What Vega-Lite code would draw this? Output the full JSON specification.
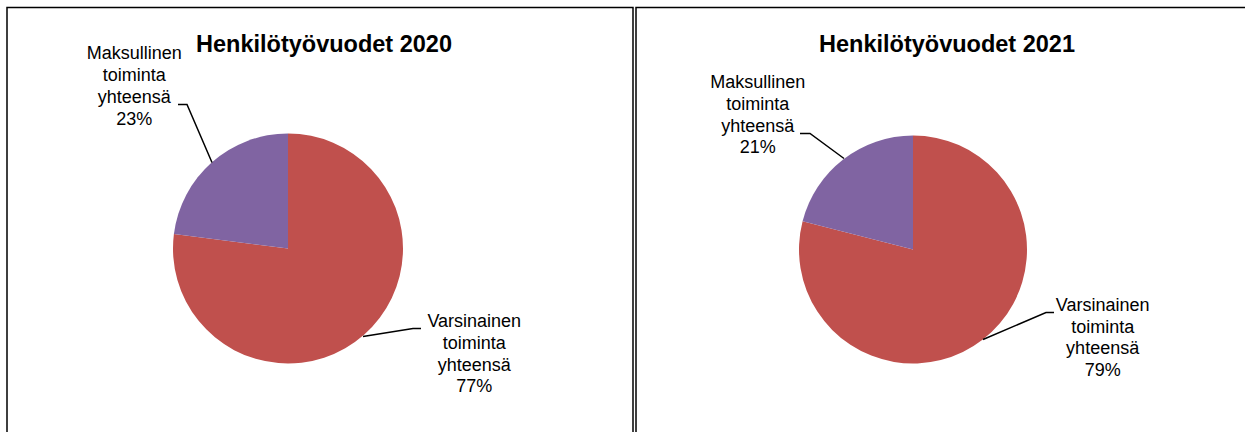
{
  "$schema": "https://vega.github.io/schema/vega-lite/v6.json",
  "padding": {"left": 6, "top": 6.5, "right": 0, "bottom": 0},
  "spacing": 1,
  "background": "white",
  "resolve": {"scale": {"shape": "independent", "color": "independent", "theta": "independent"}},
  "config": {
    "view": {"stroke": "black", "strokeWidth": 1.5},
    "font": "Liberation Sans"
  },
  "hconcat": [
    {
      "width": 626,
      "height": 432,
      "view": {"stroke": "black", "strokeWidth": 1.5},
      "title": {"text": "Henkilötyövuodet 2020", "font": "Liberation Sans", "fontSize": 23.5, "fontWeight": "bold", "color": "black", "baseline": "alphabetic", "offset": -68, "anchor": "middle", "frame": "group", "dx": 4},
      "data": {"values": [
        {"name": "Varsinainen toiminta yhteensä", "pct": 77},
        {"name": "Maksullinen toiminta yhteensä", "pct": 23}
      ]},
      "transform": [{"calculate": "datum.name + ' ' + datum.pct + '%'", "as": "lbl"}],
      "layer": [
        {
          "mark": {"type": "arc", "radius": 115, "x": 281, "y": 241},
          "encoding": {
            "theta": {"field": "pct", "type": "quantitative", "stack": true},
            "order": {"field": "name", "sort": "descending"},
            "color": {"field": "name", "type": "nominal", "scale": {"domain": ["Varsinainen toiminta yhteensä", "Maksullinen toiminta yhteensä"], "range": ["#C0504D", "#8064A2"]}, "legend": null}
          }
        },
        {
          "mark": {"type": "point", "x": 281, "y": 241, "size": 4, "filled": false, "color": "black", "stroke": "black", "strokeWidth": 1.5, "opacity": 1},
          "encoding": {
            "shape": {"field": "name", "type": "nominal", "scale": {"domain": ["Varsinainen toiminta yhteensä", "Maksullinen toiminta yhteensä"], "range": ["M75,88L125,80L133,80", "M-110,-144L-101,-144L-76,-86"]}, "legend": null}
          }
        },
        {
          "mark": {"type": "text", "x": 281, "y": 241, "radius": 216, "dx": -11, "dy": -32, "fontSize": 18, "lineHeight": 21.7, "lineBreak": " ", "align": "center", "baseline": "middle", "color": "black"},
          "encoding": {
            "theta": {"field": "pct", "type": "quantitative", "stack": true},
            "order": {"field": "name", "sort": "descending"},
            "detail": {"field": "name"},
            "text": {"condition": {"test": "datum.name == 'Maksullinen toiminta yhteensä'", "field": "lbl"}, "value": ""}
          }
        },
        {
          "mark": {"type": "text", "x": 281, "y": 241, "radius": 141, "dx": 93, "dy": -32, "fontSize": 18, "lineHeight": 21.7, "lineBreak": " ", "align": "center", "baseline": "middle", "color": "black"},
          "encoding": {
            "theta": {"field": "pct", "type": "quantitative", "stack": true},
            "order": {"field": "name", "sort": "descending"},
            "detail": {"field": "name"},
            "text": {"condition": {"test": "datum.name == 'Varsinainen toiminta yhteensä'", "field": "lbl"}, "value": ""}
          }
        }
      ]
    },
    {
      "width": 626,
      "height": 432,
      "view": {"stroke": "black", "strokeWidth": 1.5},
      "title": {"text": "Henkilötyövuodet 2021", "font": "Liberation Sans", "fontSize": 23.5, "fontWeight": "bold", "color": "black", "baseline": "alphabetic", "offset": -68, "anchor": "middle", "frame": "group", "dx": -2},
      "data": {"values": [
        {"name": "Varsinainen toiminta yhteensä", "pct": 79},
        {"name": "Maksullinen toiminta yhteensä", "pct": 21}
      ]},
      "transform": [{"calculate": "datum.name + ' ' + datum.pct + '%'", "as": "lbl"}],
      "layer": [
        {
          "mark": {"type": "arc", "radius": 114, "x": 277, "y": 242},
          "encoding": {
            "theta": {"field": "pct", "type": "quantitative", "stack": true},
            "order": {"field": "name", "sort": "descending"},
            "color": {"field": "name", "type": "nominal", "scale": {"domain": ["Varsinainen toiminta yhteensä", "Maksullinen toiminta yhteensä"], "range": ["#C0504D", "#8064A2"]}, "legend": null}
          }
        },
        {
          "mark": {"type": "point", "x": 277, "y": 242, "size": 4, "filled": false, "color": "black", "stroke": "black", "strokeWidth": 1.5, "opacity": 1},
          "encoding": {
            "shape": {"field": "name", "type": "nominal", "scale": {"domain": ["Varsinainen toiminta yhteensä", "Maksullinen toiminta yhteensä"], "range": ["M70,90L133,63L141,63", "M-113,-116L-103,-116L-69,-91"]}, "legend": null}
          }
        },
        {
          "mark": {"type": "text", "x": 277, "y": 242, "radius": 170, "dx": -51, "dy": -32, "fontSize": 18, "lineHeight": 21.7, "lineBreak": " ", "align": "center", "baseline": "middle", "color": "black"},
          "encoding": {
            "theta": {"field": "pct", "type": "quantitative", "stack": true},
            "order": {"field": "name", "sort": "descending"},
            "detail": {"field": "name"},
            "text": {"condition": {"test": "datum.name == 'Maksullinen toiminta yhteensä'", "field": "lbl"}, "value": ""}
          }
        },
        {
          "mark": {"type": "text", "x": 277, "y": 242, "radius": 112, "dx": 121, "dy": -32, "fontSize": 18, "lineHeight": 21.7, "lineBreak": " ", "align": "center", "baseline": "middle", "color": "black"},
          "encoding": {
            "theta": {"field": "pct", "type": "quantitative", "stack": true},
            "order": {"field": "name", "sort": "descending"},
            "detail": {"field": "name"},
            "text": {"condition": {"test": "datum.name == 'Varsinainen toiminta yhteensä'", "field": "lbl"}, "value": ""}
          }
        }
      ]
    }
  ]
}
